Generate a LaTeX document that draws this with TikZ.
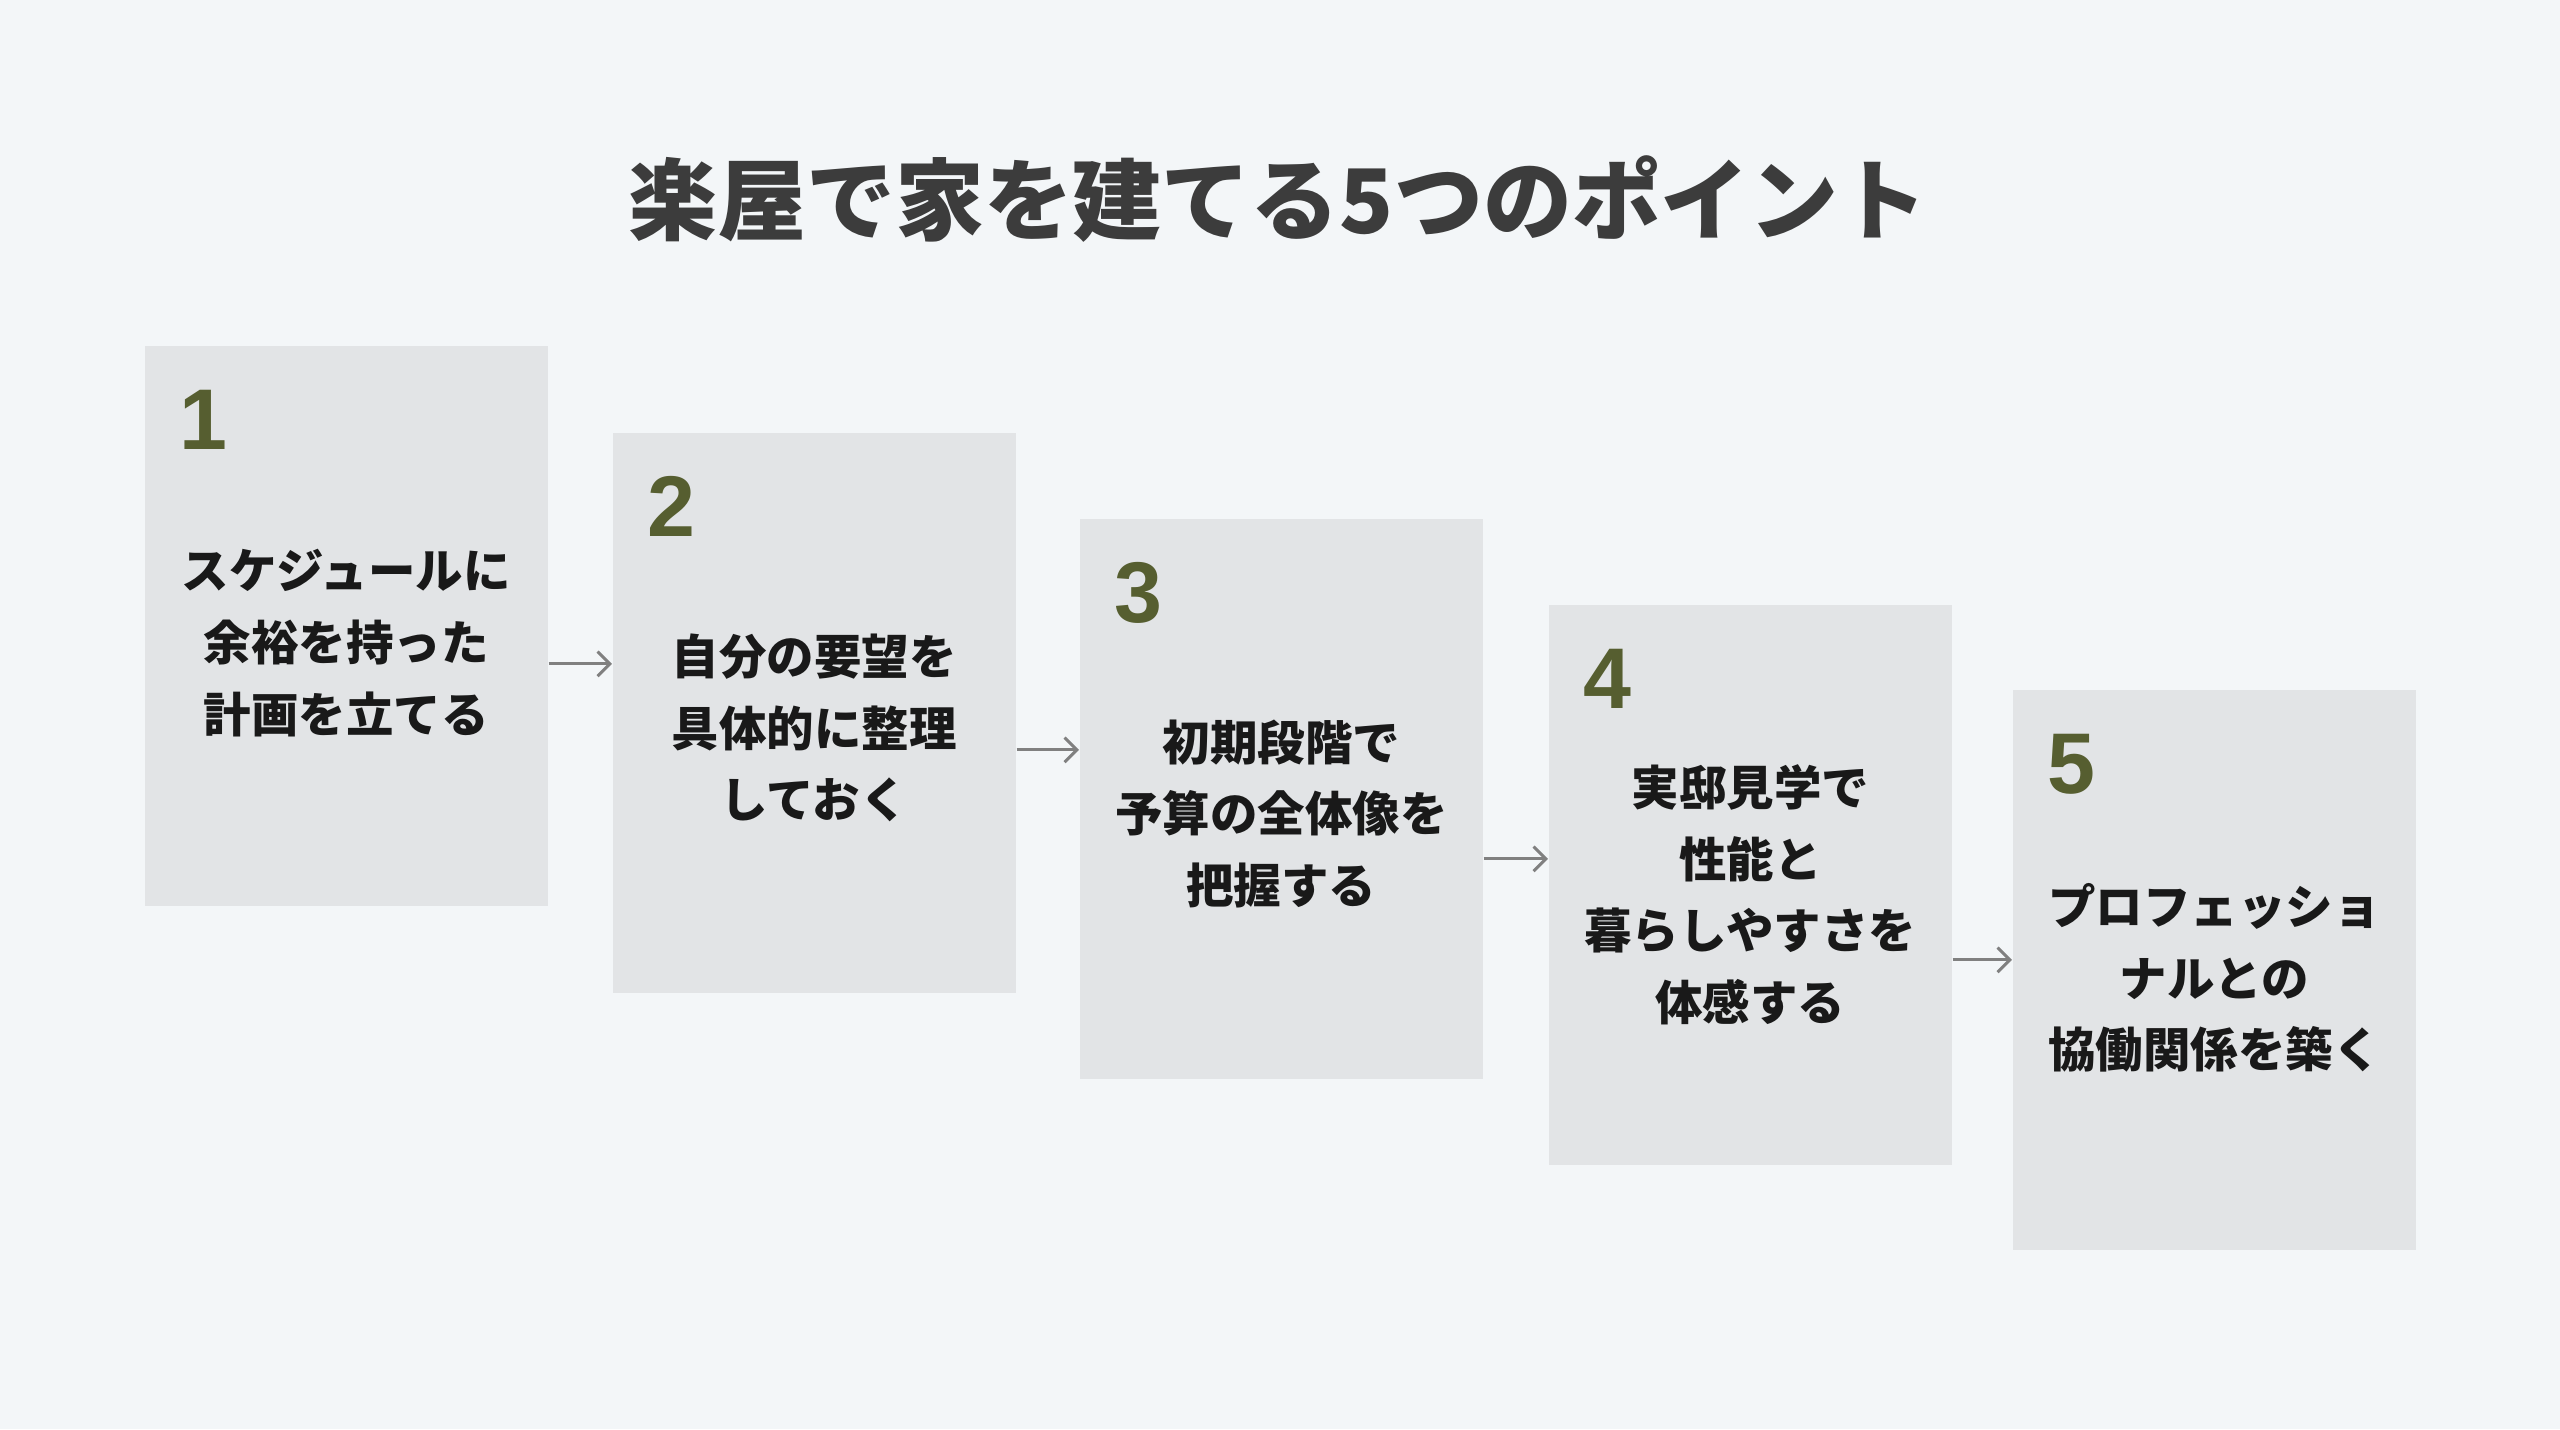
\documentclass[tikz,border=0pt]{standalone}
\usepackage{fontspec}
\newfontfamily\jpfont{Noto Sans CJK JP}
\newfontfamily\numfont{Liberation Sans}
\usetikzlibrary{calc,arrows.meta}
\definecolor{pagebg}{RGB}{243,246,248}
\definecolor{cardfill}{RGB}{226,228,230}
\definecolor{numolive}{RGB}{86,94,48}
\definecolor{titlegray}{RGB}{60,60,60}
\definecolor{arrowgray}{RGB}{128,128,128}
\tikzset{
    titletext/.style={font=\jpfont\bfseries\fontsize{25.3}{30}\selectfont, text=titlegray, inner sep=0pt},
    stepcard/.style={fill=cardfill, minimum width=4.03cm, minimum height=5.6cm, inner sep=0pt, anchor=north west},
    stepnum/.style={font=\numfont\bfseries\fontsize{24.5}{28}\selectfont, text=numolive, inner sep=0pt, anchor=base west},
    steptext/.style={font=\jpfont\bfseries\fontsize{13.5}{20.4}\selectfont, text=black!90, align=center, inner sep=0pt},
    steparrow/.style={draw=arrowgray, line width=0.85pt, -{Straight Barb[length=3.5pt,width=7pt]}}
}
\begin{document}
\begin{tikzpicture}[x=0.01cm,y=-0.01cm]
        \fill[pagebg] (0,0) rectangle (2560,1429);
        \node[titletext] (title) at (1278,199) {楽屋で家を建てる5つのポイント};
        \foreach \i/\x/\y in {1/144/345, 2/612/432, 3/1079/518, 4/1548/604, 5/2012/689} {
                \node[stepcard] (box\i) at (\x,\y) {};
                \node[stepnum] (num\i) at ($(box\i.north west)+(35,104)$) {\i};
            }
        \node[steptext] (txt1) at ($(box1.center)+(0,17)$) {スケジュールに\\余裕を持った\\計画を立てる};
        \node[steptext] (txt2) at ($(box2.center)+(0,15)$) {自分の要望を\\具体的に整理\\しておく};
        \node[steptext] (txt3) at ($(box3.center)+(0,15)$) {初期段階で\\予算の全体像を\\把握する};
        \node[steptext] (txt4) at ($(box4.center)+(0,10)$) {実邸見学で\\性能と\\暮らしやすさを\\体感する};
        \node[steptext] (txt5) at ($(box5.center)+(0,8)$) {プロフェッショ\\ナルとの\\協働関係を築く};
        \foreach \a/\b/\d in {1/2/38, 2/3/37, 3/4/60, 4/5/75} {
                \coordinate (arr\a) at ($(box\a.east)+(0,\d)$);
                \draw[steparrow] (arr\a) -- (arr\a -| box\b.west);
            }
    \end{tikzpicture}
\end{document}
